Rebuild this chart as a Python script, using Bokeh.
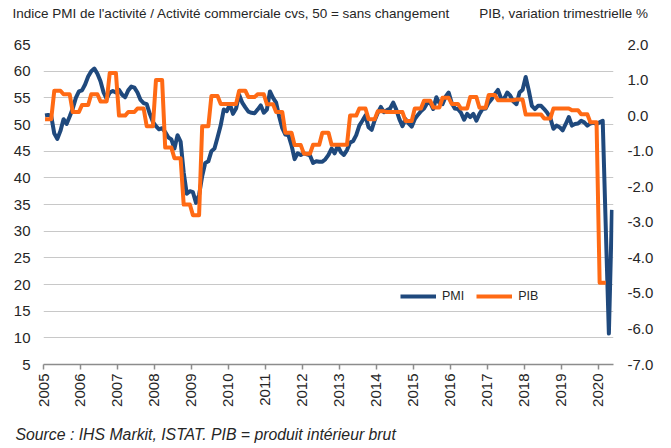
import math
from bokeh.plotting import figure
from bokeh.models import (Range1d, LinearAxis, FixedTicker, Legend, Title,
                          LegendItem, NumeralTickFormatter)
from bokeh.embed import file_html
from bokeh.resources import INLINE

# ---------------- data ----------------
year_ticks = list(range(2005, 2021))
left_ticks = list(range(5, 70, 5))
right_ticks = list(range(-7, 3))

# PMI, monthly Jan 2005 - May 2020
pmi_2005 = [51.7, 51.8, 51.6, 48.3, 47.3, 48.8, 51.0, 50.1, 51.5, 53.0, 55.0, 56.2]
pmi_2006 = [56.4, 57.5, 59.0, 60.0, 60.5, 59.5, 58.1, 56.0, 54.8, 56.0, 56.3, 56.0]
pmi_2007 = [56.5, 55.6, 55.1, 56.4, 57.1, 56.9, 56.0, 54.6, 54.0, 53.8, 52.0, 50.5]
pmi_2008 = [49.7, 49.1, 49.3, 48.6, 47.6, 47.2, 45.5, 48.0, 46.8, 41.0, 37.0, 37.5]
pmi_2009 = [37.3, 35.3, 36.8, 40.3, 42.8, 43.1, 45.0, 45.5, 47.6, 49.8, 52.8, 52.5]
pmi_2010 = [53.8, 52.0, 53.0, 55.6, 54.1, 53.2, 52.4, 52.2, 52.1, 52.8, 53.6, 52.2]
pmi_2011 = [52.8, 56.2, 55.0, 54.1, 51.5, 49.3, 48.1, 48.0, 46.1, 43.5, 44.6, 44.3]
pmi_2012 = [44.6, 44.4, 44.2, 42.8, 43.1, 43.0, 43.0, 43.5, 44.3, 45.5, 44.6, 46.0]
pmi_2013 = [44.8, 44.3, 45.2, 46.6, 46.9, 48.0, 49.8, 50.7, 51.7, 49.5, 49.0, 50.8]
pmi_2014 = [52.2, 53.3, 52.3, 52.7, 53.0, 54.1, 52.8, 51.0, 49.7, 51.0, 50.2, 49.6]
pmi_2015 = [51.0, 51.8, 52.5, 53.0, 54.0, 54.1, 52.9, 55.1, 54.0, 53.8, 55.2, 56.0]
pmi_2016 = [54.0, 53.0, 52.9, 52.2, 50.9, 52.0, 51.4, 52.0, 50.7, 52.0, 52.9, 53.0]
pmi_2017 = [54.1, 54.8, 55.7, 56.5, 54.9, 54.8, 56.0, 55.4, 54.3, 53.8, 56.0, 56.5]
pmi_2018 = [58.9, 56.4, 53.5, 52.9, 53.5, 53.5, 52.9, 52.2, 51.2, 49.2, 49.8, 49.5]
pmi_2019 = [48.9, 50.1, 51.4, 49.8, 50.1, 50.2, 50.7, 50.4, 49.8, 50.2, 50.3, 50.1]
pmi_2020 = [50.4, 50.7, 30.5, 10.8, 34.0]

# PIB, quarterly change %, Q1 2005 - Q1 2020
pib_2005 = [-0.1, 0.7, 0.6, 0.1]
pib_2006 = [0.3, 0.6, 0.4, 1.2]
pib_2007 = [0.0, 0.1, 0.2, -0.3]
pib_2008 = [1.0, -0.9, -1.2, -2.5]
pib_2009 = [-2.8, -0.3, 0.55, 0.33]
pib_2010 = [0.33, 0.7, 0.52, 0.6]
pib_2011 = [0.32, 0.1, -0.48, -0.83]
pib_2012 = [-1.07, -0.82, -0.48, -0.82]
pib_2013 = [-0.82, 0.0, 0.2, -0.1]
pib_2014 = [0.12, 0.1, 0.1, -0.15]
pib_2015 = [0.2, 0.42, 0.23, 0.5]
pib_2016 = [0.33, 0.2, 0.52, 0.22]
pib_2017 = [0.58, 0.43, 0.43, 0.45]
pib_2018 = [0.03, 0.03, -0.08, 0.2]
pib_2019 = [0.2, 0.15, 0.04, -0.19]
pib_2020 = [-4.7]

title_left = "Indice PMI de l'activité / Activité commerciale cvs, 50 = sans changement"
title_right = "PIB, variation trimestrielle %"
source_text = "Source : IHS Markit, ISTAT. PIB = produit intérieur brut"

pmi = (pmi_2005 + pmi_2006 + pmi_2007 + pmi_2008 + pmi_2009 + pmi_2010 +
       pmi_2011 + pmi_2012 + pmi_2013 + pmi_2014 + pmi_2015 + pmi_2016 +
       pmi_2017 + pmi_2018 + pmi_2019 + pmi_2020)
pib_q = (pib_2005 + pib_2006 + pib_2007 + pib_2008 + pib_2009 + pib_2010 +
         pib_2011 + pib_2012 + pib_2013 + pib_2014 + pib_2015 + pib_2016 +
         pib_2017 + pib_2018 + pib_2019 + pib_2020)

# monthly category positions (centre of each month)
x_pmi = [2005 + (i + 0.5) / 12 for i in range(len(pmi))]
pib_m = [v for v in pib_q for _ in range(3)]
x_pib = [2005 + (i + 0.5) / 12 for i in range(len(pib_m))]

BLUE = "#1F497D"
ORANGE = "#FF6A14"
TXT = "#262626"
FONT = "Liberation Sans"

p = figure(width=671, height=448, output_backend="svg", toolbar_location=None,
           x_range=Range1d(2005, 2020 + 5 / 12), y_range=Range1d(5, 65),
           min_border_left=43, min_border_right=58, min_border_top=44,
           min_border_bottom=84)
p.extra_y_ranges = {"pib": Range1d(-7, 2)}
p.outline_line_color = None
p.background_fill_color = "white"
p.border_fill_color = "white"

p.xgrid.visible = False
p.ygrid.ticker = FixedTicker(ticks=left_ticks)
p.ygrid.grid_line_color = "#C8C8C8"
p.ygrid.grid_line_width = 1

ya = p.yaxis[0]
ya.ticker = FixedTicker(ticks=left_ticks)
ya.axis_line_color = None
ya.major_tick_line_color = None
ya.minor_tick_line_color = None
ya.major_tick_in = 0
ya.major_tick_out = 0
ya.major_label_standoff = 13
ya.major_label_text_font = FONT
ya.major_label_text_font_size = "15px"
ya.major_label_text_color = TXT

ra = LinearAxis(y_range_name="pib", ticker=FixedTicker(ticks=right_ticks),
                formatter=NumeralTickFormatter(format="0.0"))
ra.axis_line_color = None
ra.major_tick_line_color = None
ra.minor_tick_line_color = None
ra.major_tick_in = 0
ra.major_tick_out = 0
ra.major_label_standoff = 14
ra.major_label_text_font = FONT
ra.major_label_text_font_size = "15px"
ra.major_label_text_color = TXT
p.add_layout(ra, "right")

xa = p.xaxis[0]
xa.ticker = FixedTicker(ticks=year_ticks)
xa.axis_line_color = "#8C8C8C"
xa.axis_line_width = 1.5
xa.major_tick_line_color = "#8C8C8C"
xa.major_tick_line_width = 1.5
xa.major_tick_in = 0
xa.major_tick_out = 5
xa.minor_tick_line_color = None
xa.major_label_orientation = math.pi / 2
xa.major_label_standoff = 4
xa.major_label_text_font = FONT
xa.major_label_text_font_size = "15px"
xa.major_label_text_color = TXT

r_pmi = p.line(x_pmi, pmi, line_color=BLUE, line_width=4, line_join="round")
r_pib = p.line(x_pib, pib_m, line_color=ORANGE, line_width=4,
               line_join="round", y_range_name="pib")

legend = Legend(items=[LegendItem(label="PMI", renderers=[r_pmi]),
                       LegendItem(label="PIB", renderers=[r_pib])],
                orientation="horizontal", location=(357, 60),
                glyph_width=36, glyph_height=16, label_height=16,
                label_standoff=6, spacing=12, padding=0, margin=0,
                border_line_color=None, background_fill_alpha=0,
                label_text_font=FONT, label_text_font_size="12.5px",
                label_text_color=TXT)
p.add_layout(legend, "center")


def set_pad(t, top, bottom):
    for val in (dict(left=0, right=0, top=top, bottom=bottom),
                (top, 0, bottom, 0)):
        try:
            t.padding = val
            return
        except Exception:
            pass


# header: both titles on one line, separated by non-breaking spaces
gap = "\u00a0" * 8
head = Title(text=title_left + gap + title_right, align="left", offset=-31,
             standoff=6, text_font=FONT, text_font_size="13.5px",
             text_font_style="normal", text_color=TXT)
set_pad(head, 0, 21)
p.title = head

# footer
foot = Title(text=source_text, align="left", offset=-28, standoff=8,
             text_font=FONT, text_font_size="15.8px",
             text_font_style="italic", text_color=TXT)
set_pad(foot, 10, 0)
p.add_layout(foot, "below")

open("out.html", "w").write(file_html(p, INLINE))
